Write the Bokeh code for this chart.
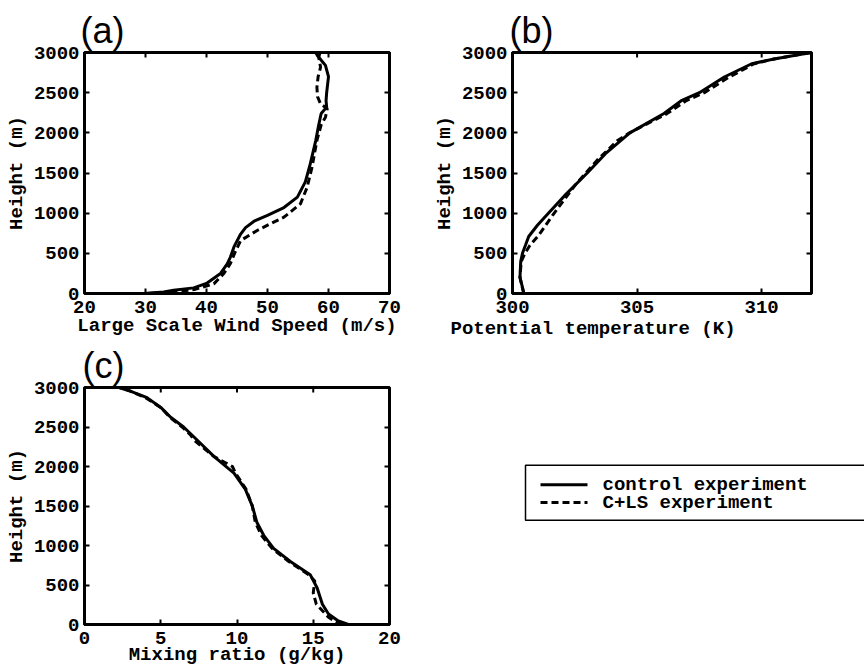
from bokeh.plotting import figure
from bokeh.layouts import row, column
from bokeh.models import Range1d, FixedTicker, LinearAxis, Title
from bokeh.core.properties import value
from bokeh.embed import file_html
from bokeh.resources import INLINE

# ---------------- data ----------------
height_ticks = [0, 500, 1000, 1500, 2000, 2500, 3000]

# (a) Large scale wind speed (m/s)
a_ticks = [20, 30, 40, 50, 60, 70]
a_h_ctrl = [0, 20, 40, 70, 130, 250, 370, 450, 580, 740, 820, 900, 970, 1070, 1200, 1390,
            1610, 1900, 2100, 2240, 2320, 2400, 2500, 2700, 2840, 2960, 3000]
a_v_ctrl = [29.7, 33.0, 34.6, 37.9, 40.1, 42.3, 43.4, 43.9, 44.5, 45.6, 46.4, 47.8, 49.9, 52.7, 54.9, 56.2,
            57.0, 57.9, 58.4, 58.8, 59.7, 59.6, 59.7, 60.0, 59.5, 58.2, 57.9]
a_h_cls = [0, 20, 50, 120, 245, 370, 500, 660, 784, 870, 950, 1116, 1323, 1572, 1905,
           2100, 2195, 2300, 2361, 2450, 2568, 2700, 2817, 2940, 3000]
a_v_cls = [30.5, 34.5, 38.0, 41.2, 42.8, 43.9, 44.6, 45.6, 48.3, 50.5, 52.7, 55.4, 56.5, 57.3, 58.1,
           58.8, 59.5, 59.8, 58.7, 58.2, 58.1, 58.3, 58.7, 58.4, 58.6]

# (b) Potential temperature (K)
b_ticks = [300, 305, 310]
b_h_ctrl = [0, 100, 200, 400, 500, 600, 710, 850, 1000, 1240, 1500, 1740, 2000, 2240,
            2405, 2500, 2695, 2860, 2920, 2985, 3000]
b_t_ctrl = [300.46, 300.38, 300.3, 300.33, 300.4, 300.52, 300.65, 301.0, 301.44, 302.16, 303.0,
            303.73, 304.71, 306.08, 306.8, 307.5, 308.5, 309.6, 310.5, 311.7, 312.0]
b_h_cls = [0, 200, 400, 500, 600, 725, 970, 1344, 1660, 1900, 2000, 2240, 2405, 2500,
           2695, 2860, 2920, 2985, 3000]
b_t_cls = [300.45, 300.3, 300.35, 300.5, 300.7, 301.05, 301.6, 302.5, 303.4, 304.2, 304.7,
           306.2, 307.0, 307.7, 308.7, 309.7, 310.5, 311.7, 312.0]

# (c) Mixing ratio (g/kg)
c_ticks = [0, 5, 10, 15, 20]
c_h_ctrl = [0, 50, 133, 257, 465, 631, 797, 963, 1129, 1295, 1502, 1710, 1917, 2125,
            2332, 2500, 2623, 2748, 2872, 2955, 3000]
c_q_ctrl = [17.3, 16.6, 16.0, 15.6, 15.25, 14.8, 13.5, 12.4, 11.75, 11.3, 11.0, 10.55, 9.8, 8.5,
            7.4, 6.5, 5.65, 5.0, 4.1, 3.0, 2.25]
c_h_cls = [0, 30, 91, 257, 400, 550, 631, 797, 963, 1129, 1295, 1502, 1710, 1917, 2000,
           2125, 2332, 2400, 2500, 2623, 2748, 2872, 2955, 3000]
c_q_cls = [16.9, 16.5, 16.0, 15.2, 15.0, 15.1, 14.7, 13.4, 12.3, 11.6, 11.2, 11.0, 10.6, 9.9, 9.7,
           8.5, 7.2, 6.95, 6.4, 5.6, 5.0, 4.0, 3.0, 2.3]

series_names = ["control experiment", "C+LS experiment"]
series_dash = ["solid", "7 4"]

# ---------------- style ----------------
MONO = "Liberation Mono"
SANS = "Liberation Sans"
FS = "19px"
FRAME_H = 241
TICK_PX = 5


def style_axis(ax):
    ax.axis_line_width = 3
    ax.axis_line_color = "black"
    ax.major_tick_in = TICK_PX
    ax.major_tick_out = 0
    ax.major_tick_line_width = 2
    ax.minor_tick_in = 0
    ax.minor_tick_out = 0
    ax.major_label_text_font = MONO
    ax.major_label_text_font_style = "bold"
    ax.major_label_text_font_size = FS
    ax.major_label_text_color = "black"
    ax.axis_label_text_font = MONO
    ax.axis_label_text_font_style = "bold"
    ax.axis_label_text_font_size = FS
    ax.axis_label_text_color = "black"


def make_panel(xr, xticks, xlabel, letter, width, height, mbl, mbr, mbt, mbb, letter_dx,
               xlabel_standoff, xlabel_shift=None):
    p = figure(width=width, height=height, x_range=Range1d(*xr), y_range=Range1d(0, 3000),
               output_backend="svg", toolbar_location=None,
               min_border_left=mbl, min_border_right=mbr,
               min_border_top=mbt, min_border_bottom=mbb)
    p.grid.visible = False
    p.background_fill_color = "white"
    p.border_fill_color = "white"
    p.outline_line_color = "black"
    p.outline_line_width = 3

    xa = p.xaxis[0]
    ya = p.yaxis[0]
    style_axis(xa)
    style_axis(ya)
    xa.ticker = FixedTicker(ticks=xticks)
    ya.ticker = FixedTicker(ticks=height_ticks)
    ya.axis_label = "Height (m)"
    xa.major_label_standoff = 7
    ya.major_label_standoff = 5
    ya.axis_label_standoff = 3
    if xlabel_shift is None:
        xa.axis_label = xlabel
        xa.axis_label_standoff = xlabel_standoff
    else:
        # x label set off to the left of the frame, as in the original
        p.add_layout(Title(text=xlabel, align="left", offset=xlabel_shift,
                           standoff=xlabel_standoff, text_font=MONO,
                           text_font_style="bold", text_font_size=FS,
                           text_color="black"), "below")

    right = LinearAxis(ticker=FixedTicker(ticks=height_ticks),
                       major_label_overrides={t: "" for t in height_ticks})
    style_axis(right)
    p.add_layout(right, "right")

    # inward tick marks along the top edge
    tick_len = TICK_PX * 3000 / FRAME_H
    p.segment(x0=xticks, y0=[3000] * len(xticks), x1=xticks,
              y1=[3000 - tick_len] * len(xticks), line_color="black", line_width=2)

    # panel letter
    p.title.text = letter
    p.title.align = "left"
    p.title.offset = letter_dx
    p.title.standoff = 4
    p.title.text_font = SANS
    p.title.text_font_size = "36px"
    p.title.text_font_style = "normal"
    p.title.text_color = "black"
    return p


TOP_H, BOT_H = 340, 328
LEFT_W, RIGHT_W = 430, 434

pa = make_panel((20, 70), a_ticks, "Large Scale Wind Speed (m/s)", "(a)",
                LEFT_W, TOP_H, 84, LEFT_W - 84 - 305, 52, TOP_H - 52 - FRAME_H, -4, -1)
pa.line(a_v_ctrl, a_h_ctrl, line_color="black", line_width=3)
pa.line(a_v_cls, a_h_cls, line_color="black", line_width=3, line_dash=series_dash[1])

pb = make_panel((300, 312), b_ticks, "Potential temperature (K)", "(b)",
                RIGHT_W, TOP_H, 75, RIGHT_W - 75 - 306, 52, TOP_H - 52 - FRAME_H, -3, 0,
                xlabel_shift=-62)
pb.line(b_t_ctrl, b_h_ctrl, line_color="black", line_width=3)
pb.line(b_t_cls, b_h_cls, line_color="black", line_width=3, line_dash=series_dash[1])

C_TOP = 43
pc = make_panel((0, 20), c_ticks, "Mixing ratio (g/kg)", "(c)",
                LEFT_W, BOT_H, 84, LEFT_W - 84 - 305, C_TOP, BOT_H - C_TOP - FRAME_H, -2, -3)
pc.line(c_q_ctrl, c_h_ctrl, line_color="black", line_width=3)
pc.line(c_q_cls, c_h_cls, line_color="black", line_width=3, line_dash=series_dash[1])

# legend panel: frame rows match panel (c); coordinates are page pixels
frame_top = TOP_H + C_TOP
frame_bot = frame_top + FRAME_H
pl = figure(width=RIGHT_W, height=BOT_H,
            x_range=Range1d(LEFT_W, LEFT_W + RIGHT_W), y_range=Range1d(frame_bot, frame_top),
            x_axis_type=None, y_axis_type=None, output_backend="svg",
            toolbar_location=None, min_border_left=0, min_border_right=0,
            min_border_top=C_TOP, min_border_bottom=BOT_H - C_TOP - FRAME_H)
pl.grid.visible = False
pl.outline_line_color = None
pl.background_fill_color = "white"
pl.border_fill_color = "white"
pl.quad(left=[525], right=[LEFT_W + RIGHT_W + 30], top=[462], bottom=[518],
        fill_color=None, line_color="black", line_width=1.5)
rows_y = [482, 500]
for name, dash, yy in zip(series_names, series_dash, rows_y):
    pl.line([540, 587], [yy, yy], line_color="black", line_width=3, line_dash=dash)
pl.text(x=[602] * len(series_names), y=rows_y, text=series_names,
        text_font=value(MONO), text_font_style="bold", text_font_size=FS,
        text_baseline="middle", text_align="left", text_color="black")

layout = column(row(pa, pb), row(pc, pl))
open("out.html", "w").write(file_html(layout, INLINE))
